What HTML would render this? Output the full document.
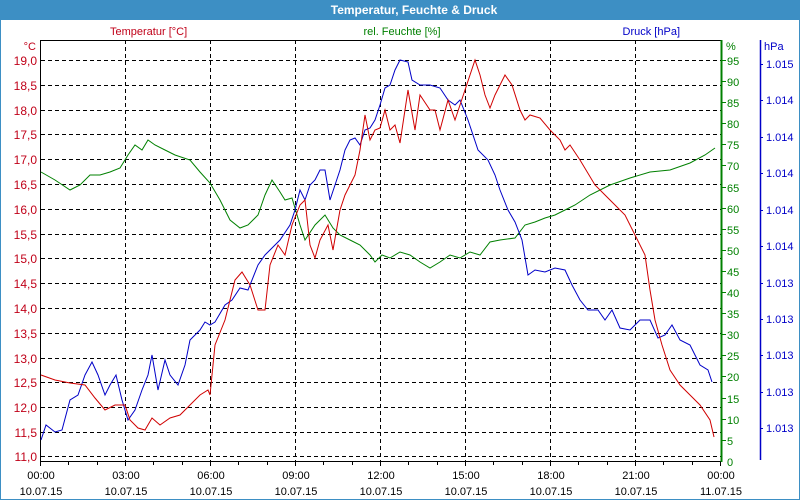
<!DOCTYPE html>
<html><head><meta charset="utf-8"><style>
body{margin:0;background:#fff}
svg{display:block;font-family:"Liberation Sans",sans-serif}
</style></head><body>
<svg width="800" height="500" viewBox="0 0 800 500" xmlns="http://www.w3.org/2000/svg">
<rect x="0.5" y="0.5" width="799" height="499" fill="#fff" stroke="#3d8fc4"/>
<rect x="0" y="0" width="800" height="20" fill="#3d8fc4"/>
<text x="414" y="14" fill="#fff" font-size="12" font-weight="bold" text-anchor="middle">Temperatur, Feuchte &amp; Druck</text>
<g font-size="11">
<text x="110" y="35" fill="#c00018">Temperatur [°C]</text>
<text x="402" y="35" fill="#008000" text-anchor="middle">rel. Feuchte [%]</text>
<text x="680" y="35" fill="#0000c8" text-anchor="end">Druck [hPa]</text>
<text x="36" y="50" fill="#c00018" text-anchor="end">°C</text>
<text x="726" y="50" fill="#008000">%</text>
<text x="764" y="50" fill="#0000c8">hPa</text>
</g>
<g id="grid" stroke="#000" stroke-dasharray="4,3" stroke-width="1"></g>
<g stroke="#000" stroke-dasharray="4,3">
<line x1="41" x2="721" y1="60.5" y2="60.5"/><line x1="41" x2="721" y1="85.5" y2="85.5"/><line x1="41" x2="721" y1="110.5" y2="110.5"/><line x1="41" x2="721" y1="134.5" y2="134.5"/><line x1="41" x2="721" y1="159.5" y2="159.5"/><line x1="41" x2="721" y1="184.5" y2="184.5"/><line x1="41" x2="721" y1="209.5" y2="209.5"/><line x1="41" x2="721" y1="234.5" y2="234.5"/><line x1="41" x2="721" y1="258.5" y2="258.5"/><line x1="41" x2="721" y1="283.5" y2="283.5"/><line x1="41" x2="721" y1="308.5" y2="308.5"/><line x1="41" x2="721" y1="333.5" y2="333.5"/><line x1="41" x2="721" y1="358.5" y2="358.5"/><line x1="41" x2="721" y1="382.5" y2="382.5"/><line x1="41" x2="721" y1="407.5" y2="407.5"/><line x1="41" x2="721" y1="432.5" y2="432.5"/><line x1="41" x2="721" y1="456.5" y2="456.5"/>
<line y1="40" y2="461" x1="125.5" x2="125.5"/><line y1="40" y2="461" x1="210.5" x2="210.5"/><line y1="40" y2="461" x1="295.5" x2="295.5"/><line y1="40" y2="461" x1="380.5" x2="380.5"/><line y1="40" y2="461" x1="465.5" x2="465.5"/><line y1="40" y2="461" x1="550.5" x2="550.5"/><line y1="40" y2="461" x1="635.5" x2="635.5"/>
</g>
<polyline fill="none" stroke="#000" points="40.5,461 40.5,40.5 721,40.5"/>
<line x1="40" x2="721" y1="461.5" y2="461.5" stroke="#000"/>
<path stroke="#000" d="M40.5 461v5M68.5 461v4M97.5 461v4M125.5 461v5M153.5 461v4M182.5 461v4M210.5 461v5M238.5 461v4M267.5 461v4M295.5 461v5M323.5 461v4M352.5 461v4M380.5 461v5M408.5 461v4M437.5 461v4M465.5 461v5M493.5 461v4M522.5 461v4M550.5 461v5M578.5 461v4M607.5 461v4M635.5 461v5M663.5 461v4M692.5 461v4M720.5 461v5"/>
<line x1="721.5" x2="721.5" y1="40" y2="462" stroke="#008000" stroke-width="2"/>
<line x1="760.5" x2="760.5" y1="40" y2="460" stroke="#0000c8" stroke-width="1.5"/>
<g font-size="12" fill="#c00018" text-anchor="end">
<text x="37" y="65">19,0</text><text x="37" y="90">18,5</text><text x="37" y="115">18,0</text><text x="37" y="139">17,5</text><text x="37" y="164">17,0</text><text x="37" y="189">16,5</text><text x="37" y="214">16,0</text><text x="37" y="239">15,5</text><text x="37" y="263">15,0</text><text x="37" y="288">14,5</text><text x="37" y="313">14,0</text><text x="37" y="338">13,5</text><text x="37" y="363">13,0</text><text x="37" y="387">12,5</text><text x="37" y="412">12,0</text><text x="37" y="437">11,5</text><text x="37" y="461">11,0</text>
</g>
<g font-size="11" fill="#008000">
<text x="727" y="65">95</text><text x="727" y="86">90</text><text x="727" y="107">85</text><text x="727" y="128">80</text><text x="727" y="149">75</text><text x="727" y="170">70</text><text x="727" y="192">65</text><text x="727" y="213">60</text><text x="727" y="234">55</text><text x="727" y="255">50</text><text x="727" y="276">45</text><text x="727" y="297">40</text><text x="727" y="318">35</text><text x="727" y="339">30</text><text x="727" y="360">25</text><text x="727" y="381">20</text><text x="727" y="403">15</text><text x="727" y="424">10</text><text x="727" y="445">5</text><text x="727" y="466">0</text>
</g>
<path stroke="#008000" d="M722 60.5h4M722 81.5h4M722 102.5h4M722 123.5h4M722 144.5h4M722 165.5h4M722 187.5h4M722 208.5h4M722 229.5h4M722 250.5h4M722 271.5h4M722 292.5h4M722 313.5h4M722 334.5h4M722 355.5h4M722 376.5h4M722 398.5h4M722 419.5h4M722 440.5h4"/>
<g font-size="11" fill="#0000c8">
<text x="766" y="68">1.015</text><text x="766" y="104">1.014</text><text x="766" y="177">1.014</text><text x="766" y="250">1.014</text><text x="766" y="323">1.013</text><text x="766" y="359">1.013</text><text x="766" y="396">1.013</text><text x="766" y="432">1.013</text><text x="766" y="141">1.014</text><text x="766" y="214">1.014</text><text x="766" y="287">1.013</text>
</g>
<path stroke="#0000c8" d="M760 64.5h3M760 100.5h3M760 137.5h3M760 173.5h3M760 210.5h3M760 246.5h3M760 283.5h3M760 319.5h3M760 355.5h3M760 392.5h3M760 428.5h3"/>
<g font-size="11" fill="#000" text-anchor="middle">
<text x="41" y="479">00:00</text><text x="41" y="495">10.07.15</text>
<text x="126" y="479">03:00</text><text x="126" y="495">10.07.15</text>
<text x="211" y="479">06:00</text><text x="211" y="495">10.07.15</text>
<text x="296" y="479">09:00</text><text x="296" y="495">10.07.15</text>
<text x="381" y="479">12:00</text><text x="381" y="495">10.07.15</text>
<text x="466" y="479">15:00</text><text x="466" y="495">10.07.15</text>
<text x="551" y="479">18:00</text><text x="551" y="495">10.07.15</text>
<text x="636" y="479">21:00</text><text x="636" y="495">10.07.15</text>
<text x="721" y="479">00:00</text><text x="721" y="495">11.07.15</text>
</g>
<polyline fill="none" stroke="#008000" stroke-width="1" points="41,172 55,180 70,190 80,185 90,175 100,175 110,172 120,168 128,155 135,145 142,150 148,140 155,145 165,150 175,155 190,160 200,172 210,183 220,200 230,220 240,228 248,225 258,215 265,195 272,180 280,192 285,200 292,198 300,225 305,240 315,225 325,215 333,228 340,235 350,240 360,245 370,255 375,262 382,255 390,258 400,252 410,255 420,262 430,268 440,262 450,255 460,258 470,252 480,255 490,242 500,240 515,238 525,225 535,222 545,218 555,215 565,210 575,205 590,195 610,185 630,178 650,172 670,170 690,163 705,155 715,148"/>
<polyline fill="none" stroke="#0000c8" stroke-width="1" points="41,440 46,425 55,432 62,430 70,400 78,395 85,375 92,362 98,375 105,395 110,385 116,375 122,400 128,420 135,410 142,390 148,375 152,355 158,390 165,360 170,375 178,385 185,365 190,340 195,335 200,330 205,322 210,325 215,322 225,305 232,300 240,288 248,290 258,265 265,255 272,248 280,240 290,225 295,210 300,190 305,200 310,185 315,180 320,170 325,170 330,200 335,185 340,170 345,150 350,140 355,138 360,145 365,130 370,128 375,120 380,105 385,88 390,85 395,70 400,60 408,62 412,80 420,85 430,85 440,88 448,100 455,105 460,100 468,120 478,150 488,160 495,175 500,190 508,210 515,222 522,240 528,275 535,270 545,272 555,268 565,270 572,285 580,300 588,310 598,310 605,320 612,310 620,328 630,330 640,320 650,320 658,338 665,335 672,325 680,340 690,345 700,365 708,370 712,382"/>
<polyline fill="none" stroke="#d00000" stroke-width="1" points="41,375 55,380 70,383 85,385 95,398 105,410 115,405 125,405 130,420 138,428 145,430 152,418 160,425 170,418 180,415 190,405 200,395 208,390 210,395 215,345 225,320 235,280 242,272 250,285 258,310 265,310 270,265 278,245 285,255 292,225 300,205 305,200 310,245 315,258 320,240 328,225 333,250 340,210 345,195 355,175 360,150 365,115 370,140 375,130 380,128 385,110 390,130 395,125 400,143 408,90 415,130 420,95 430,110 435,110 440,130 448,100 455,120 465,90 475,60 480,75 485,95 490,108 495,95 500,85 505,75 512,85 520,110 525,120 530,115 540,118 550,130 560,140 565,150 570,145 580,160 595,185 605,195 615,205 625,215 635,235 645,255 650,290 655,320 662,345 670,370 680,385 690,395 700,405 710,420 714,437"/>
</svg>
</body></html>
